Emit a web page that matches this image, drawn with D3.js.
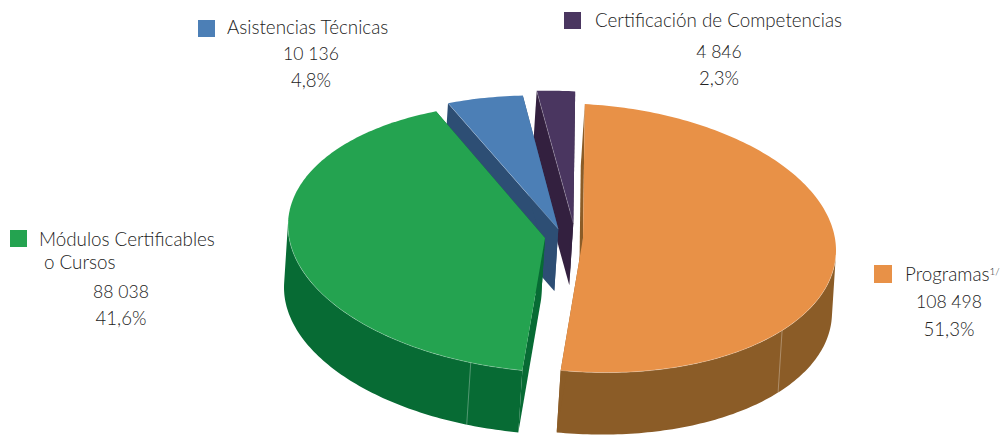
<!DOCTYPE html>
<html><head><meta charset="utf-8">
<script src="https://cdn.jsdelivr.net/npm/d3@7/dist/d3.min.js"></script>
<style>html,body{margin:0;padding:0;background:#fff}svg{display:block}text{font-family:Lato,sans-serif;fill:#222;font-size:17.6px;font-weight:300}text.name{font-size:18.8px}text.pct{font-size:18.6px}</style>
</head><body><svg id="c" width="1001" height="435"></svg>
<script>
const categories=["Programas","Módulos Certificables o Cursos","Asistencias Técnicas","Certificación de Competencias"];
const values=[108498,88038,10136,4846];
const valueLabels=["108 498","88 038","10 136","4 846"];
const percentLabels=["51,3%","41,6%","4,8%","2,3%"];
const seamAngles=[[128.1],[196.8],[],[]];

const topColors=["#E89147","#24A350","#4C7FB6","#4A3660"];
const sideColors=["#8B5C27","#076B34","#2D4E74","#33203F"];
const apex=[[583,238],[545,238],[558.3,229],[573.3,223.3]];
const radii=[[253,134],[257,134],[260,133],[268,132]];
const tilt=12.5;
const drop=[-4,62];
const drawOrder=[3,2,1,0];

const svg=d3.select("#c");
const rad=Math.PI/180;
const arcs=d3.pie().value(d=>d).sort(null).startAngle(0.4*rad).endAngle((360.4)*rad)(values);
const line=d3.line();
function rimPoint(i,a){
  return [apex[i][0]+radii[i][0]*Math.sin(a),apex[i][1]-radii[i][1]*Math.cos(a)+tilt*Math.sin(a)];
}
function rim(i,from,to){
  const a=from===undefined?arcs[i].startAngle:from,b=to===undefined?arcs[i].endAngle:to,n=Math.max(12,Math.ceil((b-a)/(1*rad)));
  return d3.range(n+1).map(k=>rimPoint(i,a+(b-a)*k/n));
}
const shift=p=>[p[0]+drop[0],p[1]+drop[1]];
function tangents(i){
  const t=Math.atan(-(drop[1]*radii[i][0]+(-drop[0])*tilt)/((-drop[0])*radii[i][1]));
  return [t+Math.PI,t+2*Math.PI];
}

drawOrder.forEach(i=>{
  const r=rim(i),c=apex[i],g=svg.append("g");
  const first=r[0],last=r[r.length-1];
  const [t0,t1]=tangents(i);
  const w0=Math.max(arcs[i].startAngle,t0),w1=Math.min(arcs[i].endAngle,t1);
  if(w1>w0){
    const wr=rim(i,w0,w1);
    g.append("path").attr("d",line([...wr,...wr.map(shift).reverse()])+"Z").attr("fill",sideColors[i]);
  }
  [first,last].forEach(p=>{
    g.append("path").attr("d",line([c,p,shift(p),shift(c)])+"Z").attr("fill",sideColors[i]);
  });
  seamAngles[i].forEach(a=>{
    const p=rimPoint(i,a*rad),q=shift(p);
    g.append("line").attr("x1",p[0]).attr("y1",p[1]).attr("x2",q[0]).attr("y2",q[1]).attr("stroke","#fff").attr("stroke-opacity",.3).attr("stroke-width",1);
  });
  g.append("path").attr("d",line([c,...r])+"Z").attr("fill",topColors[i]);
  if(w1>w0) g.append("path").attr("d",line(rim(i,w0,w1))).attr("fill","none").attr("stroke","#fff").attr("stroke-opacity",.35).attr("stroke-width",.7);
  if(i>=2) g.append("path").attr("d",line([c,first])).attr("stroke","#fff").attr("stroke-opacity",.3).attr("stroke-width",.7);
});

const legend=[
 {i:0,sq:[874,265,18],lines:[{t:categories[0],x:905,y:281,a:"start",sup:"1/",c:"name"},{t:valueLabels[0],x:949,y:308,a:"middle"},{t:percentLabels[0],x:949,y:336,a:"middle",c:"pct"}]},
 {i:1,sq:[10,230,17],lines:[{t:"Módulos Certificables",wrap:"o Cursos",x:39,wrapX:44,y:245.5,wrapY:268.5,a:"start",c:"name"},{t:valueLabels[1],x:121,y:298,a:"middle"},{t:percentLabels[1],x:121,y:325,a:"middle",c:"pct"}]},
 {i:2,sq:[198,20,17],lines:[{t:categories[2],x:227,y:34,a:"start",c:"name"},{t:valueLabels[2],x:311,y:60,a:"middle"},{t:percentLabels[2],x:311,y:87,a:"middle",c:"pct"}]},
 {i:3,sq:[564,12,17],lines:[{t:categories[3],x:595,y:27,a:"start",c:"name"},{t:valueLabels[3],x:719,y:58,a:"middle"},{t:percentLabels[3],x:719,y:85,a:"middle",c:"pct"}]}
];
legend.forEach(l=>{
  svg.append("rect").attr("x",l.sq[0]).attr("y",l.sq[1]).attr("width",l.sq[2]).attr("height",l.sq[2]).attr("fill",topColors[l.i]);
  l.lines.forEach(t=>{
    const el=svg.append("text").attr("text-anchor",t.a).attr("class",t.c||null);
    el.append("tspan").attr("x",t.x).attr("y",t.y).text(t.t);
    if(t.wrap) el.append("tspan").attr("x",t.wrapX).attr("y",t.wrapY).text(t.wrap);
    if(t.sup) el.append("tspan").attr("dy",-6).style("font-size","10px").text(t.sup);
  });
});
</script></body></html>
